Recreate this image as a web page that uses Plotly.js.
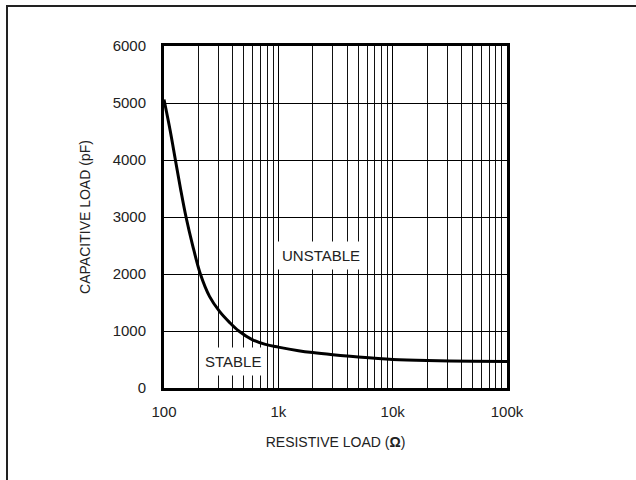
<!DOCTYPE html>
<html>
<head>
<meta charset="utf-8">
<script src="https://cdn.plot.ly/plotly-3.0.1.min.js"></script>
<style>
  html, body { margin: 0; padding: 0; background: #fff; overflow: hidden; }
  #chart { width: 636px; height: 480px; }
  #frame { position: absolute; left: 6px; top: 5px; width: 800px; height: 800px;
           border-left: 2px solid #222; border-top: 2px solid #222; pointer-events: none; }
</style>
</head>
<body>
<div id="chart"></div>
<div id="frame"></div>
<script>
// Resistive load (ohms) and capacitive load (pF) along the stability boundary
const resistiveLoad = [100, 113, 126, 140, 156, 178, 208, 250, 306, 374, 451, 590, 771, 1000, 1500, 2000, 3000, 5000, 10000, 20000, 50000, 100000];
const capacitiveLoad = [5060, 4526, 3993, 3480, 2996, 2504, 2000, 1608, 1344, 1151, 1000, 850, 765, 717, 655, 622, 585, 545, 502, 482, 470, 466];

const xTickVals = [100, 1000, 10000, 100000];
const xTickText = ['100', '1k', '10k', '100k'];
const xMinorVals = [200, 300, 400, 500, 600, 700, 800, 900,
                    2000, 3000, 4000, 5000, 6000, 7000, 8000, 9000,
                    20000, 30000, 40000, 50000, 60000, 70000, 80000, 90000];
const yTickVals = [0, 1000, 2000, 3000, 4000, 5000, 6000];

const regionLabels = ['STABLE', 'UNSTABLE'];
const regionX = [400, 2340];
const regionY = [466, 2330];

const FONT = '"Liberation Sans Narrow", "Liberation Sans", Arial, sans-serif';

const trace = {
  x: resistiveLoad,
  y: capacitiveLoad,
  type: 'scatter',
  mode: 'lines',
  line: { color: '#000', width: 3, shape: 'spline', smoothing: 1 },
  hoverinfo: 'skip'
};

const annotations = regionLabels.map((t, i) => ({
  x: Math.log10(regionX[i]), y: regionY[i], xref: 'x', yref: 'y',
  text: t, showarrow: false, bgcolor: '#fff', borderpad: 5,
  font: { family: FONT, size: 15, color: '#222' }
}));

const layout = {
  width: 636, height: 480,
  margin: { l: 164, r: 129, t: 46, b: 92 },
  paper_bgcolor: '#fff', plot_bgcolor: '#fff',
  showlegend: false,
  font: { family: FONT, size: 15, color: '#222' },
  xaxis: {
    type: 'log', range: [2, 5],
    tickmode: 'array', tickvals: xTickVals, ticktext: xTickText,
    showgrid: true, gridcolor: '#000', gridwidth: 1.5,
    minor: { tickmode: 'array', tickvals: xMinorVals, showgrid: true, gridcolor: '#111', gridwidth: 1, ticks: '' },
    showline: true, mirror: true, linecolor: '#000', linewidth: 3,
    ticks: '', ticklabelstandoff: 8, zeroline: false,
    tickfont: { family: FONT, size: 15, color: '#222' },
    title: { text: 'RESISTIVE LOAD (<b>Ω</b>)', font: { family: FONT, size: 14, color: '#222' }, standoff: 19 }
  },
  yaxis: {
    range: [0, 6000],
    tickmode: 'array', tickvals: yTickVals,
    showgrid: true, gridcolor: '#000', gridwidth: 1,
    showline: true, mirror: true, linecolor: '#000', linewidth: 3,
    ticks: '', ticklabelstandoff: 12, zeroline: false,
    tickfont: { family: FONT, size: 15, color: '#222' },
    title: { text: 'CAPACITIVE LOAD (pF)', font: { family: FONT, size: 14, color: '#222' }, standoff: 19 }
  },
  annotations: annotations
};

Plotly.newPlot('chart', [trace], layout, { staticPlot: true, displayModeBar: false });
</script>
</body>
</html>
